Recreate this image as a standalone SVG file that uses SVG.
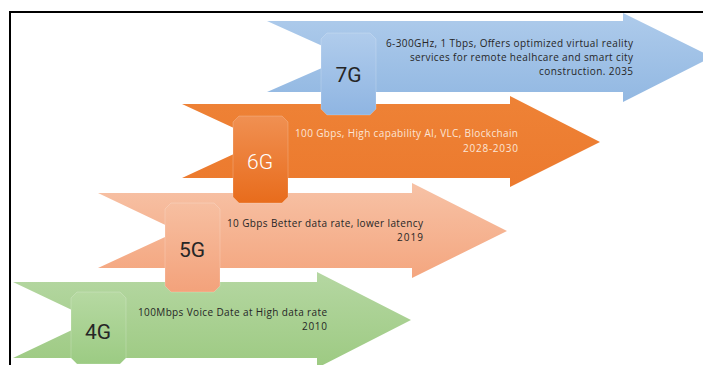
<svg xmlns="http://www.w3.org/2000/svg" width="703" height="365" viewBox="0 0 703 365">
<defs>
<linearGradient id="gBlue" x1="0" y1="0" x2="0" y2="1"><stop offset="0" stop-color="#aecbeb"/><stop offset="1" stop-color="#92b8e2"/></linearGradient>
<linearGradient id="gBlueBox" x1="0" y1="0" x2="0" y2="1"><stop offset="0" stop-color="#b0ccec"/><stop offset="1" stop-color="#8fb5e2"/></linearGradient>
<linearGradient id="gOrange" x1="0" y1="0" x2="0" y2="1"><stop offset="0" stop-color="#ee8236"/><stop offset="1" stop-color="#ec7a2e"/></linearGradient>
<linearGradient id="gOrangeBox" x1="0" y1="0" x2="0" y2="1"><stop offset="0" stop-color="#f09052"/><stop offset="1" stop-color="#e86c1c"/></linearGradient>
<linearGradient id="gSalmon" x1="0" y1="0" x2="0" y2="1"><stop offset="0" stop-color="#f7c2a6"/><stop offset="1" stop-color="#f4a67f"/></linearGradient>
<linearGradient id="gSalmonBox" x1="0" y1="0" x2="0" y2="1"><stop offset="0" stop-color="#f7bfa1"/><stop offset="1" stop-color="#f3a27b"/></linearGradient>
<linearGradient id="gGreen" x1="0" y1="0" x2="0" y2="1"><stop offset="0" stop-color="#b5d7a2"/><stop offset="1" stop-color="#9dca82"/></linearGradient>
<linearGradient id="gGreenBox" x1="0" y1="0" x2="0" y2="1"><stop offset="0" stop-color="#b6d9a2"/><stop offset="1" stop-color="#9ccb83"/></linearGradient>
</defs>
<style>
.box{stroke:#ffffff;stroke-opacity:0.2;stroke-width:1}
.lbl{font-family:Roboto,"Liberation Sans",sans-serif;font-size:21px;text-anchor:middle}
.txt{font-family:"Open Sans","Noto Sans","Liberation Sans",sans-serif;font-size:10px;text-anchor:end}
.dark{fill:#262626}
.light{fill:#fbe5d6}
</style>
<rect x="10" y="12" width="720" height="380" fill="#ffffff" stroke="#000000" stroke-width="2"/>
<g id="connectors"></g>
<g id="n4g">
<polygon points="13,282 317,282 317,272 411,320 317,368 317,358 13,358 93,320" fill="url(#gGreen)"/>
<path class="box" d="M77,292 H120 L126,298 V358 L120,364 H77 L71,358 V298 Z" fill="url(#gGreenBox)"/>
<text class="lbl dark" x="98" y="339">4G</text>
<text class="txt dark" x="327" y="316" textLength="189">100Mbps Voice Date at High data rate</text>
<text class="txt dark" x="327" y="330" textLength="25">2010</text>
</g>
<g id="n5g">
<polygon points="98,193 412,193 412,183 507,231 412,278 412,268 98,268 178,231" fill="url(#gSalmon)"/>
<path class="box" d="M171,203 H214 L220,209 V286 L214,292 H171 L165,286 V209 Z" fill="url(#gSalmonBox)"/>
<text class="lbl dark" x="192" y="257">5G</text>
<text class="txt dark" x="423" y="227" textLength="196">10 Gbps Better data rate, lower latency</text>
<text class="txt dark" x="423" y="241" textLength="26">2019</text>
</g>
<g id="n6g">
<polygon points="182,104 510,104 510,96 600,142 510,187 510,178 182,178 262,141" fill="url(#gOrange)"/>
<path class="box" d="M239,116 H282 L288,122 V197 L282,203 H239 L233,197 V122 Z" fill="url(#gOrangeBox)"/>
<text class="lbl" x="260" y="169" fill="#ffffff" font-weight="300">6G</text>
<text class="txt light" x="518" y="137" textLength="223">100 Gbps, High capability AI, VLC, Blockchain</text>
<text class="txt light" x="518" y="152" textLength="55">2028-2030</text>
</g>
<g id="n7g">
<polygon points="267,21 623,21 623,13 712,57 623,102 623,92 267,92 347,57" fill="url(#gBlue)"/>
<path class="box" d="M327,33 H370 L376,39 V109 L370,115 H327 L321,109 V39 Z" fill="url(#gBlueBox)"/>
<text class="lbl dark" x="348.5" y="82">7G</text>
<text class="txt dark" x="633" y="47" textLength="247">6-300GHz, 1 Tbps, Offers optimized virtual reality</text>
<text class="txt dark" x="633" y="61" textLength="223">services for remote healhcare and smart city</text>
<text class="txt dark" x="633" y="75" textLength="94">construction. 2035</text>
</g>
</svg>
